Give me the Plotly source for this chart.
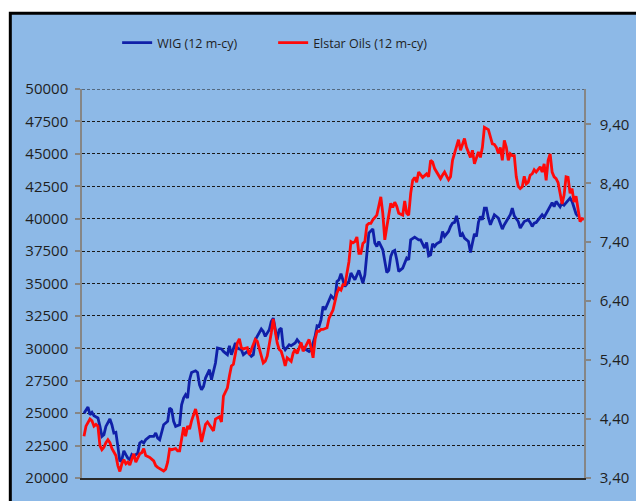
import plotly.graph_objects as go

# ---- data (trading session index, values) ----
wig_sessions = [1, 3, 4, 5, 6, 8, 9, 10, 11, 12, 14, 15, 16, 17, 18, 19, 20, 21, 22, 23, 24, 25, 26, 28, 29, 30, 31, 32, 34, 36, 37, 38, 39, 40, 41, 43, 44, 45, 46, 47, 49, 50, 51, 52, 53, 54, 55, 57, 58, 59, 60, 61, 62, 64, 65, 67, 68, 70, 71, 73, 74, 75, 77, 78, 80, 81, 83, 85, 86, 87, 89, 90, 91, 92, 94, 95, 96, 97, 98, 99, 100, 101, 102, 104, 105, 107, 108, 110, 111, 112, 114, 115, 117, 118, 119, 120, 121, 122, 124, 125, 126, 127, 128, 129, 130, 131, 132, 134, 135, 136, 137, 139, 140, 141, 142, 143, 144, 146, 147, 148, 149, 151, 152, 153, 154, 155, 156, 157, 158, 159, 161, 162, 163, 164, 165, 167, 168, 169, 170, 172, 173, 174, 175, 176, 177, 178, 180, 181, 182, 184, 185, 186, 187, 188, 189, 190, 191, 192, 194, 195, 196, 197, 198, 199, 200, 201, 202, 203, 204, 205, 206, 207, 209, 210, 211, 212, 214, 215, 216, 217, 219, 220, 221, 222, 224, 225, 226, 227, 228, 230, 231, 232, 233, 235, 236, 237, 238, 240, 241, 242, 243, 245, 246, 247, 248, 249]
wig_values = [25000, 25470, 24880, 25060, 24800, 24630, 23980, 23210, 23340, 23980, 24550, 24110, 23470, 23520, 22440, 21280, 21410, 22100, 21800, 21540, 21410, 21800, 21670, 21930, 22700, 22820, 22700, 22950, 23210, 23210, 23470, 23080, 22950, 23470, 24110, 24370, 25400, 25270, 24370, 23980, 24110, 25650, 26170, 26420, 26170, 27580, 28140, 28270, 28140, 27190, 26810, 27060, 27710, 28350, 27580, 28870, 30020, 29950, 29760, 29510, 30200, 29510, 30410, 30020, 29890, 29510, 29760, 29380, 29510, 30660, 31180, 31490, 31300, 30920, 31430, 32070, 32330, 31430, 30660, 31430, 31560, 30150, 29890, 30280, 30200, 30410, 30660, 30280, 30020, 29950, 29760, 29890, 30920, 31740, 31690, 32200, 33230, 32980, 33750, 34060, 33900, 33750, 35160, 35290, 35750, 35160, 34770, 35160, 35810, 35540, 35290, 36010, 35540, 35030, 35670, 37350, 38890, 39200, 38120, 37860, 38240, 37600, 36830, 35850, 36010, 37090, 37470, 37550, 36830, 35930, 36190, 36580, 36960, 36830, 38370, 38580, 38500, 38370, 38370, 37730, 38160, 37140, 37220, 38060, 37860, 38060, 38240, 39010, 38630, 39010, 39400, 39660, 39710, 40220, 39530, 38630, 38840, 38500, 38240, 37390, 38120, 38840, 38630, 39710, 40170, 39910, 40820, 40820, 40050, 39530, 39910, 40300, 40050, 39660, 39200, 39530, 40050, 40300, 40820, 40220, 39780, 39270, 39530, 39780, 39910, 39710, 39400, 39660, 39710, 40120, 40300, 40120, 40400, 41050, 41230, 40920, 41330, 40920, 41230, 41050, 41230, 41590, 41330, 40820, 40380, 40170]

elstar_sessions = [1, 2, 4, 5, 6, 7, 8, 9, 10, 11, 12, 13, 14, 15, 17, 18, 19, 20, 21, 22, 23, 24, 25, 26, 27, 29, 30, 31, 32, 34, 36, 37, 38, 39, 41, 42, 43, 44, 45, 47, 48, 49, 50, 51, 52, 53, 54, 55, 57, 58, 59, 60, 62, 63, 66, 67, 69, 70, 71, 72, 73, 74, 75, 76, 77, 78, 79, 80, 81, 83, 84, 85, 87, 88, 89, 90, 91, 92, 93, 95, 96, 97, 98, 99, 100, 101, 102, 103, 105, 106, 107, 108, 110, 111, 112, 114, 115, 116, 117, 118, 119, 120, 121, 123, 124, 125, 126, 128, 129, 130, 131, 132, 133, 134, 135, 136, 137, 138, 139, 140, 141, 142, 143, 144, 145, 146, 148, 149, 150, 151, 152, 153, 154, 155, 156, 157, 158, 159, 161, 162, 163, 164, 165, 166, 167, 168, 169, 170, 171, 173, 174, 175, 176, 177, 179, 180, 181, 182, 184, 185, 186, 188, 189, 190, 192, 193, 194, 195, 196, 197, 199, 200, 201, 202, 204, 205, 206, 207, 208, 209, 210, 211, 212, 213, 214, 215, 216, 217, 218, 219, 220, 221, 222, 223, 224, 225, 226, 227, 228, 230, 231, 232, 233, 234, 235, 236, 237, 238, 239, 240, 241, 242, 243, 244, 245, 246, 247, 248, 249, 250, 251, 252]
elstar_values = [4.11, 4.28, 4.40, 4.37, 4.28, 4.31, 4.28, 3.95, 3.88, 3.92, 4.00, 4.05, 4.00, 3.90, 3.78, 3.61, 3.51, 3.64, 3.71, 3.64, 3.67, 3.62, 3.72, 3.81, 3.67, 3.81, 3.83, 3.90, 3.78, 3.75, 3.69, 3.61, 3.58, 3.56, 3.52, 3.55, 3.67, 3.89, 3.88, 3.90, 3.86, 3.86, 4.06, 4.26, 4.11, 4.28, 4.23, 4.37, 4.57, 4.43, 4.23, 4.01, 4.31, 4.35, 4.20, 4.40, 4.44, 4.35, 4.79, 4.87, 4.93, 5.13, 5.30, 5.33, 5.49, 5.69, 5.76, 5.61, 5.59, 5.61, 5.49, 5.58, 5.75, 5.72, 5.61, 5.47, 5.35, 5.38, 5.47, 5.86, 6.10, 5.89, 5.69, 5.58, 5.55, 5.44, 5.30, 5.44, 5.38, 5.52, 5.58, 5.51, 5.70, 5.55, 5.61, 5.75, 5.61, 5.44, 5.75, 5.89, 5.89, 5.92, 5.92, 5.95, 6.11, 6.17, 6.25, 6.54, 6.62, 6.59, 6.68, 6.68, 6.87, 7.07, 7.41, 7.39, 7.41, 7.49, 7.21, 7.21, 7.38, 7.41, 7.69, 7.72, 7.72, 7.78, 7.86, 8.03, 8.17, 7.89, 7.44, 7.66, 7.89, 8.06, 7.99, 8.08, 8.01, 7.89, 7.86, 8.10, 7.89, 7.86, 8.23, 8.45, 8.50, 8.42, 8.59, 8.54, 8.50, 8.56, 8.51, 8.79, 8.76, 8.65, 8.52, 8.48, 8.54, 8.59, 8.46, 8.51, 8.79, 9.01, 9.14, 8.96, 9.16, 9.01, 8.91, 8.84, 8.96, 8.73, 8.93, 8.84, 9.01, 9.35, 9.31, 9.21, 9.07, 9.06, 9.01, 8.91, 9.01, 8.79, 9.13, 9.01, 8.79, 8.90, 8.87, 8.87, 8.51, 8.35, 8.31, 8.34, 8.52, 8.39, 8.42, 8.54, 8.56, 8.63, 8.59, 8.68, 8.59, 8.73, 8.45, 8.79, 8.90, 8.59, 8.51, 8.48, 8.41, 8.23, 8.05, 8.20, 8.51, 8.50, 8.23, 8.31, 8.08, 8.18, 7.97, 7.75, 7.80, 7.79]

series_names = ["WIG (12 m-cy)", "Elstar Oils (12 m-cy)"]
left_ticks = [20000, 22500, 25000, 27500, 30000, 32500, 35000, 37500, 40000, 42500, 45000, 47500, 50000]
right_ticks = [3.40, 4.40, 5.40, 6.40, 7.40, 8.40, 9.40]

BG = "#8DB9E7"
TXT = "#1f1f1f"
AXIS_GREY = "#868686"
GRID = "#1a1a1a"

fig = go.Figure()
fig.add_trace(go.Scatter(x=wig_sessions, y=wig_values, name=series_names[0], mode="lines",
                         line=dict(color="#1020A8", width=2.8), yaxis="y"))
fig.add_trace(go.Scatter(x=elstar_sessions, y=elstar_values, name=series_names[1], mode="lines",
                         line=dict(color="#FF0A0A", width=2.8), yaxis="y2"))

fig.update_layout(
    width=644, height=501,
    margin=dict(l=74, r=68, t=81, b=31, pad=0),
    paper_bgcolor="white",
    plot_bgcolor=BG,
    separators=", ",
    font=dict(family="Open Sans", size=15, color=TXT),
    showlegend=True,
    legend=dict(orientation="h", x=0.07, xanchor="left", y=1.118, yanchor="middle",
                bgcolor="rgba(0,0,0,0)", font=dict(size=12.5, color=TXT),
                entrywidth=111, entrywidthmode="pixels"),
    xaxis=dict(range=[0, 252], showticklabels=False, ticks="", showgrid=False, zeroline=False,
               showline=True, linecolor="#2a2a2a", linewidth=1.5),
    yaxis=dict(range=[left_ticks[0], left_ticks[-1]], tickvals=left_ticks, tickformat="d",
               showline=True, linecolor=AXIS_GREY, linewidth=1.5,
               ticks="outside", ticklen=5, tickwidth=1.5, tickcolor=AXIS_GREY,
               ticklabelstandoff=4,
               showgrid=True, gridcolor=GRID, gridwidth=1, griddash="3px,2px",
               zeroline=False, tickfont=dict(size=15, color=TXT)),
    yaxis2=dict(range=[3.4, 10.0], tickvals=right_ticks, tickformat=".2f", overlaying="y", side="right",
                showline=True, linecolor=AXIS_GREY, linewidth=1.5,
                ticks="outside", ticklen=5, tickwidth=1.5, tickcolor=AXIS_GREY,
                ticklabelstandoff=6,
                showgrid=False, zeroline=False, tickfont=dict(size=15, color=TXT)),
    shapes=[
        dict(type="rect", xref="paper", yref="paper", layer="below",
             x0=-0.1428, x1=1.6, y0=-0.5, y1=1.1949,
             fillcolor=BG, line=dict(color="black", width=3)),
        # top gridline (plotly omits gridlines lying on the plot edge)
        dict(type="line", xref="paper", yref="y", layer="below",
             x0=0, x1=1, y0=left_ticks[-1], y1=left_ticks[-1],
             line=dict(color=GRID, width=1, dash="3px,2px")),
    ],
)

fig.write_html("out.html")
